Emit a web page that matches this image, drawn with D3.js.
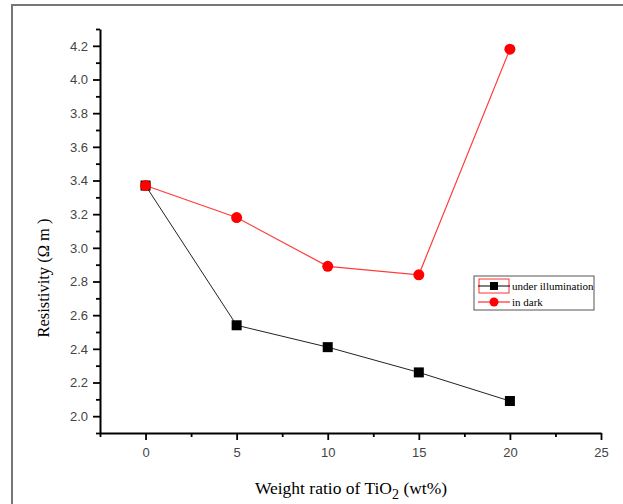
<!DOCTYPE html>
<html>
<head>
<meta charset="utf-8">
<script src="https://cdn.jsdelivr.net/npm/d3@7"></script>
<style>
  body { margin: 0; background: #fff; }
  svg { display: block; }
</style>
</head>
<body>
<svg></svg>
<script>
// values
var ratios = [0, 5, 10, 15, 20];
var underIllumination = [3.37, 2.54, 2.41, 2.26, 2.09];
var inDark = [3.37, 3.18, 2.89, 2.84, 4.18];
var xTicks = [0, 5, 10, 15, 20, 25];
var yTicks = [2.0, 2.2, 2.4, 2.6, 2.8, 3.0, 3.2, 3.4, 3.6, 3.8, 4.0, 4.2];
var seriesNames = ['under illumination', 'in dark'];

var canvasWidth = 623;
var canvasHeight = 504;
var margin = { top: 29, right: 22, bottom: 71, left: 100 };
var width = canvasWidth - margin.left - margin.right;
var height = canvasHeight - margin.top - margin.bottom;

var svg = d3.select('svg')
    .attr('width', canvasWidth)
    .attr('height', canvasHeight);

// outer frame
svg.append('rect')
    .attr('x', 12).attr('y', 5)
    .attr('width', 640).attr('height', 520)
    .attr('fill', 'none')
    .attr('stroke', '#777')
    .attr('stroke-width', 2);

var graphArea = svg.append('g')
    .attr('transform', 'translate(' + margin.left + ',' + margin.top + ')');

var xScale = d3.scaleLinear().domain([-2.5, 25]).range([0, width]);
var yScale = d3.scaleLinear().domain([1.9, 4.3]).range([height, 0]);

// minor ticks
graphArea.append('g')
    .attr('transform', 'translate(0,' + height + ')')
    .call(d3.axisBottom(xScale).tickValues(d3.range(-2.5, 25, 5)).tickSize(4).tickFormat(''))
    .call(function(g) { g.select('.domain').remove(); });
graphArea.append('g')
    .call(d3.axisLeft(yScale).tickValues(d3.range(1.9, 4.35, 0.2)).tickSize(4).tickFormat(''))
    .call(function(g) { g.select('.domain').remove(); });

// x and y axis
var xAxis = graphArea.append('g')
    .attr('transform', 'translate(0,' + height + ')')
    .call(d3.axisBottom(xScale).tickValues(xTicks).tickSize(7).tickPadding(8).tickSizeOuter(0).tickFormat(d3.format('d')));
var yAxis = graphArea.append('g')
    .call(d3.axisLeft(yScale).tickValues(yTicks).tickSize(7).tickPadding(5).tickSizeOuter(0).tickFormat(d3.format('.1f')));

[xAxis, yAxis].forEach(function(a) {
    a.selectAll('.domain').attr('stroke', '#000').attr('stroke-width', 2);
    a.selectAll('text')
        .attr('font-family', 'Liberation Sans, Arial, sans-serif')
        .attr('font-size', '13px')
        .attr('fill', '#444');
});
graphArea.selectAll('g line').attr('stroke', '#000').attr('stroke-width', 1.8);

// lines
var line = function(values) {
    return d3.line()
        .x(function(d, i) { return xScale(ratios[i]); })
        .y(function(d) { return yScale(d); })(values);
};

graphArea.append('path')
    .attr('d', line(underIllumination))
    .attr('fill', 'none')
    .attr('stroke', '#222')
    .attr('stroke-width', 1);

graphArea.append('path')
    .attr('d', line(inDark))
    .attr('fill', 'none')
    .attr('stroke', '#ff3b3b')
    .attr('stroke-width', 1.2);

graphArea.selectAll('rect.sq')
    .data(underIllumination)
    .enter()
    .append('rect')
    .attr('class', 'sq')
    .attr('x', function(d, i) { return xScale(ratios[i]) - 5; })
    .attr('y', function(d) { return yScale(d) - 5; })
    .attr('width', 10).attr('height', 10)
    .attr('fill', '#000');

graphArea.selectAll('circle')
    .data(inDark)
    .enter()
    .append('circle')
    .attr('cx', function(d, i) { return xScale(ratios[i]); })
    .attr('cy', function(d) { return yScale(d); })
    .attr('r', 5.5)
    .attr('fill', '#ff0000');

// axis titles
svg.append('text')
    .attr('x', 351).attr('y', 494)
    .attr('text-anchor', 'middle')
    .attr('font-family', 'Liberation Serif, Times New Roman, serif')
    .attr('font-size', '17.5px')
    .attr('fill', '#000')
    .html('Weight ratio of TiO<tspan dy="5" font-size="14px">2</tspan><tspan dy="-5"> (wt%)</tspan>');

svg.append('text')
    .attr('transform', 'translate(49,278) rotate(-90)')
    .attr('text-anchor', 'middle')
    .attr('font-family', 'Liberation Serif, Times New Roman, serif')
    .attr('font-size', '16.5px')
    .attr('fill', '#000')
    .text('Resistivity (\u03A9 m )');

// legend
var legend = svg.append('g').attr('transform', 'translate(474,276)');
legend.append('rect')
    .attr('width', 120).attr('height', 34)
    .attr('fill', '#fff')
    .attr('stroke', '#555')
    .attr('stroke-width', 1);
legend.append('rect')
    .attr('x', 5).attr('y', 3).attr('width', 30).attr('height', 14)
    .attr('fill', 'none').attr('stroke', '#ff3030').attr('stroke-width', 1);

var rows = legend.selectAll('g.row')
    .data(seriesNames)
    .enter()
    .append('g')
    .attr('class', 'row')
    .attr('transform', function(d, i) { return 'translate(0,' + (10 + i * 16) + ')'; });
rows.append('line')
    .attr('x1', 4).attr('x2', 36)
    .attr('stroke', function(d, i) { return i === 0 ? '#000' : '#ff0000'; })
    .attr('stroke-width', 1);
rows.each(function(d, i) {
    var g = d3.select(this);
    if (i === 0) {
        g.append('rect').attr('x', 16).attr('y', -4).attr('width', 8).attr('height', 8).attr('fill', '#000');
    } else {
        g.append('circle').attr('cx', 20).attr('r', 4.5).attr('fill', '#ff0000');
    }
});
rows.append('text')
    .attr('x', 38).attr('y', 4)
    .attr('font-family', 'Liberation Serif, Times New Roman, serif')
    .attr('font-size', '11px')
    .attr('fill', '#000')
    .text(function(d) { return d; });
</script>
</body>
</html>
